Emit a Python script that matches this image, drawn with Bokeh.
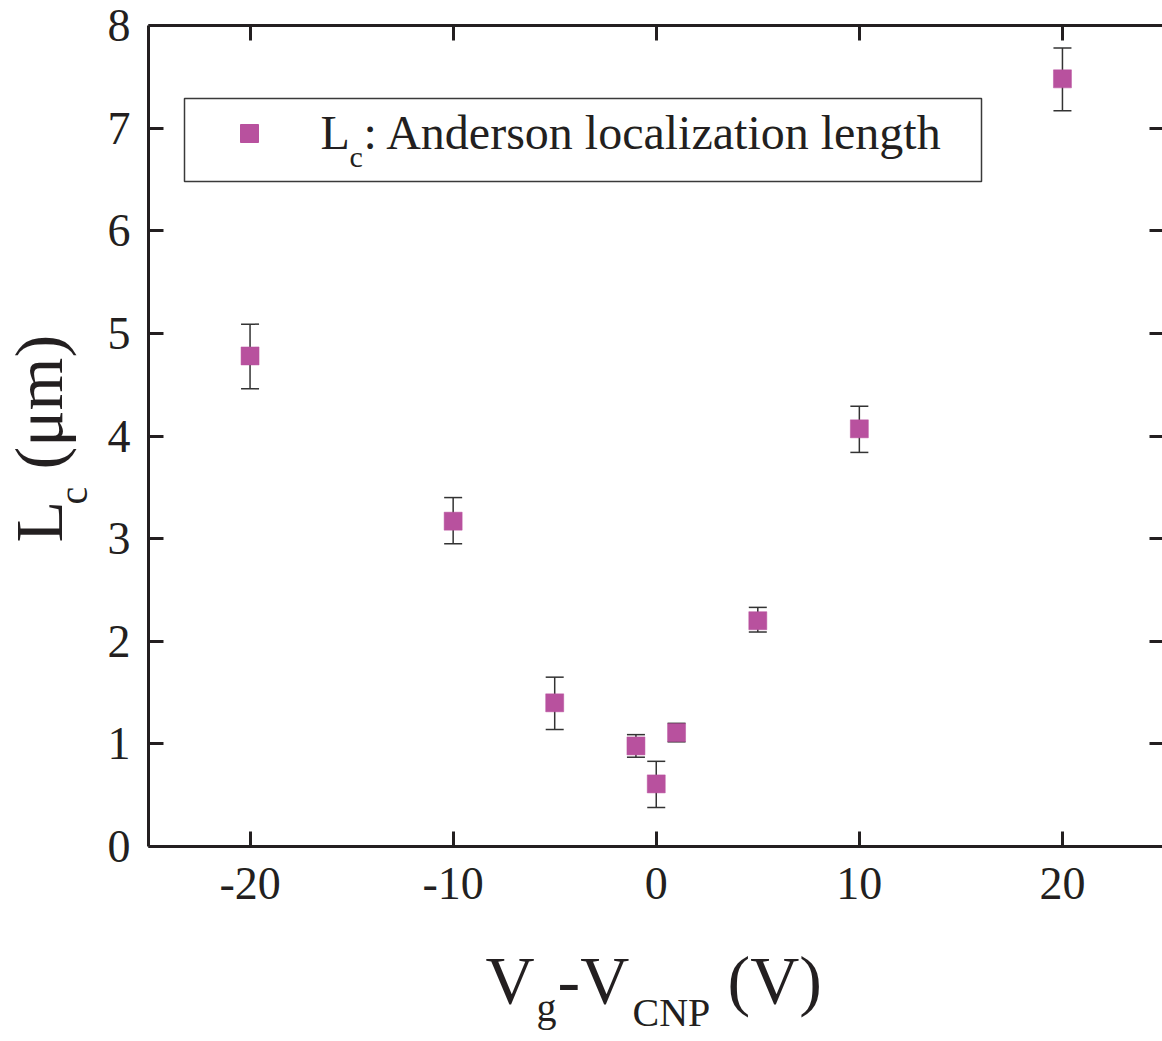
import math
from bokeh.plotting import figure
from bokeh.models import (ColumnDataSource, Whisker, TeeHead, LinearAxis, FixedTicker,
                          Label, BoxAnnotation, Range1d)
from bokeh.embed import file_html
from bokeh.resources import INLINE

# ---- data ----
vg = [-20, -10, -5, -1, 0, 1, 5, 10, 20]
lc = [4.78, 3.17, 1.40, 0.98, 0.61, 1.11, 2.20, 4.07, 7.48]
lc_lower = [4.46, 2.95, 1.14, 0.87, 0.38, 1.02, 2.09, 3.84, 7.17]
lc_upper = [5.09, 3.40, 1.65, 1.09, 0.83, 1.20, 2.33, 4.29, 7.78]
x_ticks = [-20, -10, 0, 10, 20]
x_tick_labels = ["-20", "-10", "0", "10", "20"]
y_ticks = [0, 1, 2, 3, 4, 5, 6, 7, 8]
x_lim = (-25, 25)
y_lim = (0, 8)
legend_label = ": Anderson localization length"

FONT = "Liberation Serif"
MARK = "#b8519e"
INK = "#231f20"

W, H = 1162, 1038
# page pixel positions of the axes box
FL, FR, FT, FB = 148, 1163.5, 25, 846
SX = (FR - FL) / (x_lim[1] - x_lim[0])
SY = (FB - FT) / (y_lim[1] - y_lim[0])
BASE = 0.37  # Bokeh's alphabetic-baseline offset (fraction of font size)

def dx(xp):
    return x_lim[0] + (xp - FL) / SX

def dy(yp):
    return y_lim[0] + (FB - yp) / SY

# the frame covers the whole canvas; axes sit at fixed data locations
p = figure(width=W, height=H, output_backend="svg", toolbar_location=None,
           x_range=Range1d(dx(0), dx(W)), y_range=Range1d(dy(H), dy(0)),
           min_border=0, min_border_left=0, min_border_right=0,
           min_border_top=0, min_border_bottom=0,
           x_axis_location=None, y_axis_location=None)
p.outline_line_color = None
p.grid.visible = False
p.background_fill_color = "white"
p.border_fill_color = "white"

src = ColumnDataSource(dict(x=vg, y=lc, lo=lc_lower, hi=lc_upper))

w = Whisker(source=src, base="x", upper="hi", lower="lo",
            line_color="#333333", line_width=1.5,
            upper_head=TeeHead(size=18, line_color="#333333", line_width=1.5),
            lower_head=TeeHead(size=18, line_color="#333333", line_width=1.5))
w.level = "underlay"
p.add_layout(w)

p.scatter("x", "y", source=src, marker="square", size=18,
          fill_color=MARK, line_color=MARK, line_width=0.5)

bottom = LinearAxis(ticker=FixedTicker(ticks=x_ticks), fixed_location=y_lim[0], bounds=x_lim)
bottom.major_label_overrides = {t: s for t, s in zip(x_ticks, x_tick_labels)}
left = LinearAxis(ticker=FixedTicker(ticks=y_ticks), fixed_location=x_lim[0], bounds=y_lim)
top = LinearAxis(ticker=FixedTicker(ticks=x_ticks), fixed_location=y_lim[1], bounds=x_lim)
right = LinearAxis(ticker=FixedTicker(ticks=y_ticks), fixed_location=x_lim[1], bounds=y_lim)
p.add_layout(bottom, "below")
p.add_layout(left, "left")
p.add_layout(top, "above")
p.add_layout(right, "right")
for ax in (bottom, left, top, right):
    ax.axis_line_width = 3
    ax.axis_line_color = INK
    ax.major_tick_line_width = 3
    ax.major_tick_line_color = INK
    ax.major_tick_in = 15
    ax.major_tick_out = 0
    ax.minor_tick_line_color = None
    ax.major_label_text_font = FONT
    ax.major_label_text_color = INK
    ax.major_label_text_font_size = "46px"
bottom.major_label_standoff = 21
left.major_label_standoff = 18
top.major_label_overrides = {t: "" for t in x_ticks}
right.major_label_overrides = {t: "" for t in y_ticks}
for ax in (top, right):
    ax.major_label_text_color = None

def lab(text, xp, yp, size, rotated=False):
    if rotated:
        xp = xp - BASE * size
    else:
        yp = yp - BASE * size
    p.add_layout(Label(x=dx(xp), y=dy(yp), text=text, text_font=FONT,
                       text_font_size=f"{size}px", text_color=INK,
                       text_align="left", text_baseline="alphabetic",
                       angle=math.pi / 2 if rotated else 0.0, angle_units="rad"))

# x axis label: V_g-V_CNP (V)
lab("V", 485, 1005, 68)
lab("g", 536, 1022, 40)
lab("-V", 557, 1005, 68)
lab("CNP", 632, 1027, 40)
lab("(V)", 727, 1005, 68)

# y axis label: L_c (μm), rotated
lab("L", 64, 542, 68, True)
lab("c", 88, 504, 40, True)
lab("(\u03bcm)", 64, 469, 68, True)

# legend
p.add_layout(BoxAnnotation(left=dx(184), right=dx(981), top=dy(98), bottom=dy(181),
                           fill_color="white", fill_alpha=1.0,
                           line_color="#3a3a3a", line_alpha=1.0, line_width=1.5,
                           level="annotation"))
sw = ColumnDataSource(dict(x=[dx(249)], y=[dy(133)]))
sr = p.scatter("x", "y", source=sw, marker="square", size=18,
               fill_color=MARK, line_color=MARK)
sr.level = "overlay"
lab("L", 320, 150, 48)
lab("c", 349, 167, 30)
lab(legend_label, 363, 150, 48)

open("out.html", "w").write(file_html(p, INLINE))
